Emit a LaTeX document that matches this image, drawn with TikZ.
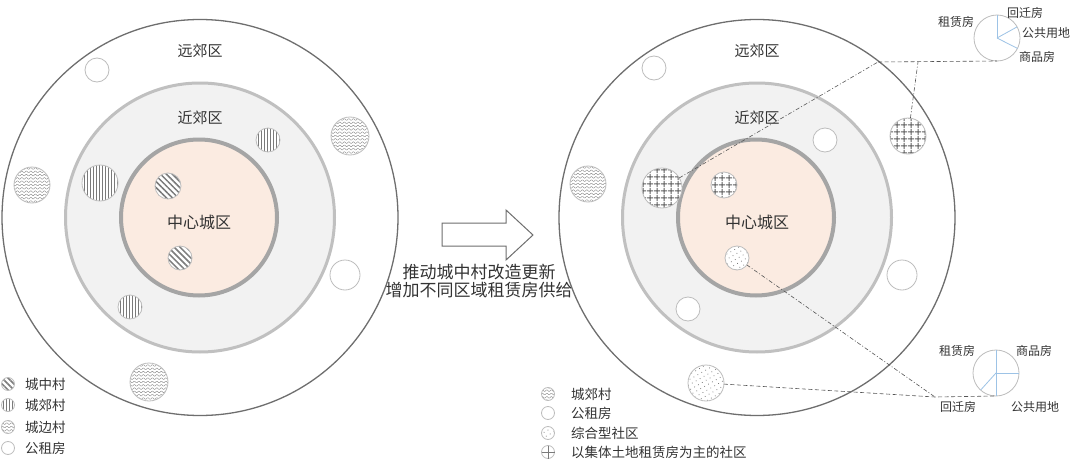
\documentclass[tikz,border=0pt]{standalone}
\usepackage{fontspec}
\newfontfamily\cjk{Noto Sans CJK SC}
\usetikzlibrary{patterns.meta}
\definecolor{outerc}{HTML}{6E6E6E}
\definecolor{midfill}{HTML}{F2F2F2}
\definecolor{midline}{HTML}{C0C0C0}
\definecolor{corefill}{HTML}{FBEBE1}
\definecolor{coreline}{HTML}{A5A5A5}
\definecolor{smline}{HTML}{BDBDBD}
\definecolor{hatchc}{HTML}{7A7A7A}
\definecolor{gridc}{HTML}{5E5E5E}
\definecolor{piec}{HTML}{9DC3E6}
\definecolor{txt}{HTML}{333333}
\definecolor{conc}{HTML}{555555}
\begin{document}
\begin{tikzpicture}[x=1pt,y=-1pt,
  every node/.style={text=txt},
  outerring/.style={circle, draw=outerc, line width=1.3pt, minimum size=396pt, inner sep=0pt},
  midring/.style={circle, draw=midline, fill=midfill, line width=3pt, minimum size=269pt, inner sep=0pt},
  corering/.style={circle, draw=coreline, fill=corefill, line width=4pt, minimum size=156pt, inner sep=0pt},
  site/.style={circle, draw=smline, line width=0.8pt, inner sep=0pt, outer sep=0pt, minimum size=#1},
  emptysite/.style={site=#1, fill=white},
  diagsite/.style={site=#1, preaction={fill=white}, pattern={Lines[angle=-45,distance=4.2pt,line width=1.5pt]}, pattern color=hatchc},
  vertsite/.style={site=#1, preaction={fill=white}, pattern={Lines[angle=90,distance=3pt,line width=0.7pt]}, pattern color=hatchc},
  gridsite/.style={site=#1, preaction={fill=white}, pattern={Hatch[angle=0,distance=6.5pt,line width=1pt]}, pattern color=gridc},
  dotsite/.style={site=#1, preaction={fill=white}, pattern={Dots[distance=4.5pt,radius=0.55pt,angle=30]}, pattern color=hatchc},
  wavysite/.style={site=#1, fill=white, path picture={
    \foreach \k in {-7,...,7}{
      \draw[hatchc, line width=0.35pt, shift={(path picture bounding box.center)}]
        plot[domain=-22:22, samples=110] (\x, {\k*3.3+0.8*sin(\x*80)});
    }}},
  zone/.style={font=\cjk\fontsize{15}{15}\selectfont},
  corelbl/.style={font=\cjk\fontsize{16}{16}\selectfont},
  leg/.style={font=\cjk\fontsize{13.5}{13.5}\selectfont, anchor=west, inner sep=0pt},
  pielbl/.style={font=\cjk\fontsize{12}{12}\selectfont, inner sep=0pt},
  pie/.style={circle, draw=smline, line width=0.8pt, minimum size=46pt, inner sep=0pt, outer sep=0pt},
  slice/.style={draw=piec, line width=0.8pt},
  conn/.style={draw=conc, line width=0.6pt, dash pattern=on 4pt off 2pt on 1pt off 2pt},
  hconn/.style={draw=conc, line width=0.6pt, dash pattern=on 4pt off 2.5pt},
  bigarrow/.style={draw=outerc, line width=1pt, fill=white}
]
\useasboundingbox (0,0) rectangle (1080,471);
\fill[white] (0,0) rectangle (1080,471);

% ---------- left diagram ----------
\node[outerring] (lo) at (200,217.5) {};
\node[midring] (lm) at (200,217.5) {};
\node[corering] (lc) at (199,217.5) {};
\node[zone] (lyj) at (200,51) {远郊区};
\node[zone] (ljj) at (200,118) {近郊区};
\node[corelbl] (lzx) at (199,222) {中心城区};

\node[diagsite=26pt] (ld1) at (168,186) {};
\node[diagsite=24pt] (ld2) at (180,258) {};
\node[vertsite=36pt] (lv1) at (100,183) {};
\node[vertsite=24pt] (lv2) at (268,140) {};
\node[vertsite=24pt] (lv3) at (130,307) {};
\node[wavysite=36pt] (lw1) at (32,185) {};
\node[wavysite=38pt] (lw2) at (350,136) {};
\node[wavysite=38pt] (lw3) at (149,382) {};
\node[emptysite=24pt] (le1) at (97,70) {};
\node[emptysite=30pt] (le2) at (345,275) {};

% left legend
\node[diagsite=13pt] (lgi1) at (8,384) {};
\node[leg] (lgt1) at (25,384) {城中村};
\node[vertsite=13pt] (lgi2) at (8,405) {};
\node[leg] (lgt2) at (25,405) {城郊村};
\node[wavysite=13pt] (lgi3) at (8,427) {};
\node[leg] (lgt3) at (25,427) {城边村};
\node[emptysite=13pt] (lgi4) at (8,448) {};
\node[leg] (lgt4) at (25,448) {公租房};

% ---------- arrow ----------
\draw[bigarrow] (442,223) -- (506,223) -- (506,210) -- (533,235) -- (506,260) -- (506,246) -- (442,246) -- cycle;
\node[align=center, font=\cjk\fontsize{17}{18.5}\selectfont] (atxt) at (479,281) {推动城中村改造更新\\增加不同区域租赁房供给};

% ---------- right diagram ----------
\node[outerring] (ro) at (757,217.5) {};
\node[midring] (rm) at (757,217.5) {};
\node[corering] (rc) at (756,217.5) {};
\node[zone] (ryj) at (757,51) {远郊区};
\node[zone] (rjj) at (757,118) {近郊区};
\node[corelbl] (rzx) at (757,222) {中心城区};

\node[gridsite=40pt] (rg1) at (662,188) {};
\node[gridsite=26pt] (rg2) at (724,185) {};
\node[gridsite=36pt] (rg3) at (908,136) {};
\node[dotsite=24pt] (rd1) at (737,258) {};
\node[dotsite=36pt] (rd2) at (706,383) {};
\node[wavysite=36pt] (rw1) at (588,184) {};
\node[emptysite=24pt] (re1) at (654,68) {};
\node[emptysite=24pt] (re2) at (825,140) {};
\node[emptysite=30pt] (re3) at (902,275) {};
\node[emptysite=24pt] (re4) at (688,309) {};

% top pie
\node[pie] (tp) at (997,38) {};
\draw[slice] (tp.center) -- (tp.90);
\draw[slice] (tp.center) -- (tp.29);
\draw[slice] (tp.center) -- (tp.-27);
\node[pielbl] (tpl1) at (956,22) {租赁房};
\node[pielbl] (tpl2) at (1025,13) {回迁房};
\node[pielbl] (tpl3) at (1046,33) {公共用地};
\node[pielbl] (tpl4) at (1037,57) {商品房};

% bottom pie
\node[pie] (bp) at (996,373) {};
\draw[slice] (bp.center) -- (bp.90);
\draw[slice] (bp.center) -- (bp.0);
\draw[slice] (bp.center) -- (bp.-90);
\draw[slice] (bp.center) -- (bp.-132);
\node[pielbl] (bpl1) at (957,351) {租赁房};
\node[pielbl] (bpl2) at (1034,351) {商品房};
\node[pielbl] (bpl3) at (958,407) {回迁房};
\node[pielbl] (bpl4) at (1035,407) {公共用地};

% connectors
\coordinate (jt) at (878,62);
\coordinate (jb) at (918,62);
\coordinate (jc) at (935,397);
\draw[conn] (rg1) -- (jt);
\draw[hconn] (jt) -- (tp.south);
\draw[conn] (rg3) -- (jb);
\draw[conn] (rd1) -- (jc);
\draw[hconn] (rd2) -- (jc) -- (bp.south);

% right legend
\node[wavysite=13pt] (rgi1) at (548,394) {};
\node[leg] (rgt1) at (571,394) {城郊村};
\node[emptysite=13pt] (rgi2) at (548,413) {};
\node[leg] (rgt2) at (571,413) {公租房};
\node[dotsite=13pt] (rgi3) at (548,433) {};
\node[leg] (rgt3) at (571,433) {综合型社区};
\node[site=13pt, fill=white] (rgi4) at (548,452) {};
\draw[hatchc, line width=0.8pt] (rgi4.north) -- (rgi4.south) (rgi4.west) -- (rgi4.east);
\node[leg] (rgt4) at (571,452) {以集体土地租赁房为主的社区};
\end{tikzpicture}
\end{document}
